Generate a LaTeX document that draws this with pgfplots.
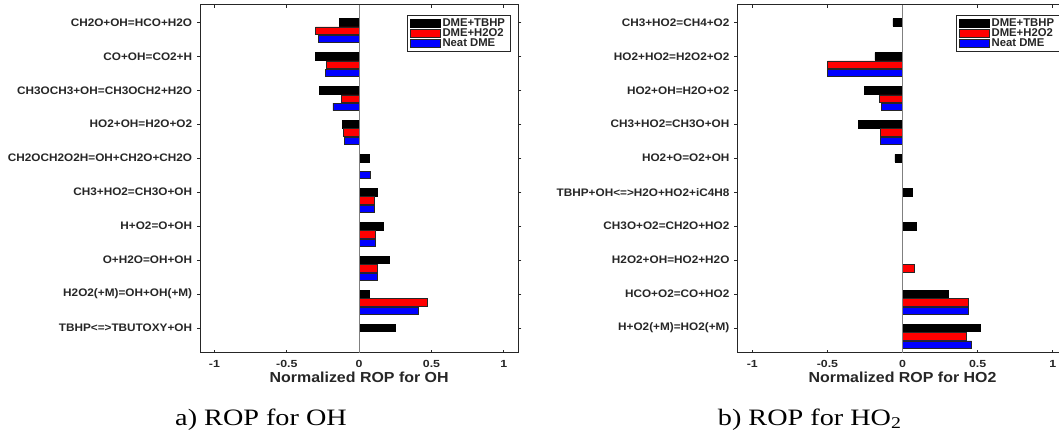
\documentclass[border=0pt]{standalone}
\usepackage{pgfplots}
\pgfplotsset{compat=1.18}
\usepackage{fontspec}
\setmainfont{Liberation Serif}
\setsansfont{Liberation Sans}
\definecolor{axgray}{HTML}{262626}
\definecolor{mred}{HTML}{FF0000}
\definecolor{mblue}{HTML}{0000FF}
\definecolor{basegray}{HTML}{808080}
\pgfplotsset{
  ropaxis/.style={
    scale only axis, anchor=south west,
    height=348pt,
    xmin=-1.1, xmax=1.1, ymin=0.48, ymax=10.73, y dir=reverse,
    xtick={-1,-0.5,0,0.5,1},
    ytick={1,2,3,4,5,6,7,8,9,10},
    tick align=inside, major tick length=3pt,
    axis line style={axgray, line width=0.9pt},
    tick style={axgray, line width=0.7pt},
    /pgf/number format/assume math mode=true,
    xticklabel style={font=\sffamily\bfseries\fontsize{10.3}{11}\selectfont, text=axgray, xscale=1.2, yshift=-4pt},
    yticklabel style={font=\sffamily\bfseries\fontsize{10.9}{12}\selectfont, text=axgray, xscale=1.08, xshift=-1pt},
    every axis x label/.style={at={(rel axis cs:0.5,0)}, anchor=north, yshift=-16pt, font=\sffamily\bfseries\fontsize{14.5}{16}\selectfont, text=axgray, xscale=1.1},
    legend style={at={(rel axis cs:0.975,0.97)}, anchor=north east, draw=axgray, line width=0.7pt, font=\sffamily\bfseries\fontsize{11.3}{12}\selectfont, text=axgray, row sep=-3pt, inner xsep=3pt, inner ysep=1pt, legend cell align=left},
    xbar, bar width=0.22, bar shift=0pt,
  },
  mylegend/.style={legend image code/.code={\draw[##1, line width=0.6pt] (0pt,-4pt) rectangle (30pt,4pt);}},
  sblack/.style={fill=black, draw=black, line width=0.6pt, mylegend},
  sred/.style={fill=mred, draw=black!85, line width=0.6pt, mylegend},
  sblue/.style={fill=mblue, draw=black!85, line width=0.6pt, mylegend},
}
\begin{document}
\begin{tikzpicture}
\useasboundingbox (0pt,0pt) rectangle (1059pt,432pt);
% ---------- a) OH ----------
\begin{axis}[ropaxis, at={(200pt,79.3pt)}, width=318.3pt,
  xlabel={Normalized ROP for OH},
  yticklabels={CH2O+OH=HCO+H2O, CO+OH=CO2+H, CH3OCH3+OH=CH3OCH2+H2O, HO2+OH=H2O+O2, CH2OCH2O2H=OH+CH2O+CH2O, CH3+HO2=CH3O+OH, H+O2=O+OH, O+H2O=OH+OH, H2O2(+M)=OH+OH(+M), TBHP<=>TBUTOXY+OH}]
\addplot[sblack] coordinates {(-0.134,1) (-0.305,2) (-0.277,3) (-0.115,4) (0.069,5) (0.127,6) (0.166,7) (0.206,8) (0.069,9) (0.249,10)};
\addlegendentry{DME+TBHP}
\addplot[sred] coordinates {(-0.300,1.245) (-0.226,2.245) (-0.122,3.245) (-0.111,4.245) (0.002,5.245) (0.102,6.245) (0.115,7.245) (0.125,8.245) (0.471,9.245) (0,10.245)};
\addlegendentry{DME+H2O2}
\addplot[sblue] coordinates {(-0.284,1.49) (-0.236,2.49) (-0.182,3.49) (-0.102,4.49) (0.079,5.49) (0.102,6.49) (0.113,7.49) (0.122,8.49) (0.407,9.49) (0,10.49)};
\addlegendentry{Neat DME}
\addplot[basegray, line width=0.8pt, forget plot, sharp plot] coordinates {(0,0.48) (0,10.73)};
\end{axis}
% ---------- b) HO2 ----------
\begin{axis}[ropaxis, at={(737.3pt,79.3pt)}, width=330.4pt,
  xlabel={Normalized ROP for HO2},
  yticklabels={CH3+HO2=CH4+O2, HO2+HO2=H2O2+O2, HO2+OH=H2O+O2, CH3+HO2=CH3O+OH, HO2+O=O2+OH, TBHP+OH<=>H2O+HO2+iC4H8, CH3O+O2=CH2O+HO2, H2O2+OH=HO2+H2O, HCO+O2=CO+HO2, H+O2(+M)=HO2(+M)}]
\addplot[sblack] coordinates {(-0.064,1) (-0.184,2) (-0.255,3) (-0.293,4) (-0.051,5) (0.067,6) (0.091,7) (0,8) (0.304,9) (0.517,10)};
\addlegendentry{DME+TBHP}
\addplot[sred] coordinates {(-0.002,1.245) (-0.499,2.245) (-0.153,3.245) (-0.146,4.245) (0,5.245) (0,6.245) (0,7.245) (0.080,8.245) (0.435,9.245) (0.428,10.245)};
\addlegendentry{DME+H2O2}
\addplot[sblue] coordinates {(-0.002,1.49) (-0.499,2.49) (-0.142,3.49) (-0.146,4.49) (0,5.49) (0,6.49) (0,7.49) (0,8.49) (0.437,9.49) (0.461,10.49)};
\addlegendentry{Neat DME}
\addplot[basegray, line width=0.8pt, forget plot, sharp plot] coordinates {(0,0.48) (0,10.73)};
\end{axis}
% captions
\node[font=\fontsize{23.5}{25}\selectfont, anchor=base, xscale=1.2] at (261pt,7pt) {a) ROP for OH};
\node[font=\fontsize{23.5}{25}\selectfont, anchor=base, xscale=1.2] at (809.7pt,7pt) {b) ROP for HO\textsubscript{2}};
\end{tikzpicture}
\end{document}
